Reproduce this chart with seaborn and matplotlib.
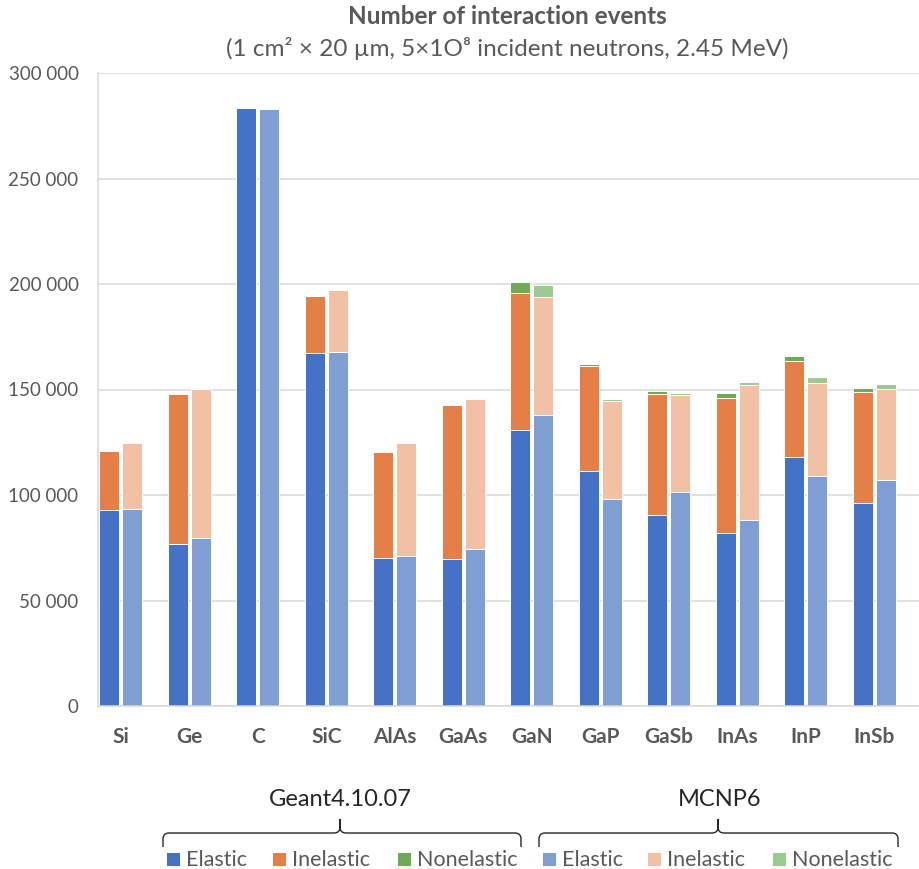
import numpy as np
import pandas as pd
import matplotlib
matplotlib.use("Agg")
import matplotlib.pyplot as plt
from matplotlib.path import Path
from matplotlib.patches import PathPatch, Rectangle
from matplotlib.transforms import Affine2D
from matplotlib.ticker import FuncFormatter
import seaborn as sns

# values
materials = ["Si", "Ge", "C", "SiC", "AlAs", "GaAs", "GaN", "GaP", "GaSb", "InAs", "InP", "InSb"]
models = ["Geant4.10.07", "MCNP6"]

g4_elastic = [92700, 77000, 283500, 167200, 70100, 69600, 131000, 111200, 90300, 81800, 117900, 96000]
g4_inelastic = [28200, 70900, 0, 26900, 50400, 73000, 64900, 49800, 57800, 64100, 45400, 52700]
g4_nonelastic = [500, 500, 0, 500, 400, 300, 5100, 1000, 1000, 2300, 2500, 2200]

mcnp_elastic = [93600, 79800, 282800, 168000, 71200, 74200, 138000, 97900, 101300, 88100, 109200, 107100]
mcnp_inelastic = [30900, 70600, 0, 29200, 53600, 71400, 55700, 46700, 46100, 64100, 43900, 43100]
mcnp_nonelastic = [400, 300, 0, 300, 400, 300, 5800, 1100, 1000, 1500, 2600, 2200]

colors = {
    "elastic": {"Geant4.10.07": "#4472C4", "MCNP6": "#7F9FD3"},
    "inelastic": {"Geant4.10.07": "#E47F47", "MCNP6": "#F2C1A5"},
    "nonelastic": {"Geant4.10.07": "#70AA58", "MCNP6": "#9CCB92"},
}
TEXT_GREY = "#595959"

sns.set_style("white")
plt.rcParams["font.family"] = ["Lato", "DejaVu Sans"]

W, H = 920, 869
fig = plt.figure(figsize=(W / 100, H / 100), dpi=100)
ax = fig.add_axes([98 / W, 1 - 706 / H, (920 - 98) / W, (706 - 73) / H])

# each material gets three slots: Geant4 bar, MCNP6 bar, empty slot
rows = []
for i, m in enumerate(materials):
    rows.append(dict(material=m, model=models[0], pos=i - 1 / 3,
                     elastic=g4_elastic[i], inelastic=g4_inelastic[i], nonelastic=g4_nonelastic[i]))
    rows.append(dict(material=m, model=models[1], pos=float(i),
                     elastic=mcnp_elastic[i], inelastic=mcnp_inelastic[i], nonelastic=mcnp_nonelastic[i]))
df = pd.DataFrame(rows)
df["el_inel"] = df["elastic"] + df["inelastic"]
df["total"] = df["el_inel"] + df["nonelastic"]

# stacked bars: draw the cumulative heights from tallest to shortest
for col, key in [("total", "nonelastic"), ("el_inel", "inelastic"), ("elastic", "elastic")]:
    sns.barplot(data=df, x="pos", y=col, hue="model", palette=colors[key], saturation=1,
                native_scale=True, dodge=False, width=0.875, errorbar=None,
                edgecolor="white", linewidth=0.7, legend=False, ax=ax)

ax.set_xlim(-0.5, 11.5)
ax.set_ylim(0, 300000)
ax.set_yticks(np.arange(0, 300001, 50000))
ax.yaxis.set_major_formatter(FuncFormatter(lambda v, p: f"{int(v):,}".replace(",", " ")))
ax.set_xticks(np.arange(len(materials)) - 1 / 6)
ax.set_xticklabels(materials, fontweight="bold", fontsize=15, color=TEXT_GREY)
ax.tick_params(axis="y", length=0, pad=14, labelsize=13.5, labelcolor=TEXT_GREY)
ax.tick_params(axis="x", length=0, pad=15)
ax.set_xlabel("")
ax.set_ylabel("")
ax.yaxis.grid(True, color="#D9D9D9", linewidth=1.1)
ax.set_axisbelow(True)
for s in ["top", "right"]:
    ax.spines[s].set_visible(False)
for s in ["left", "bottom"]:
    ax.spines[s].set_color("#D9D9D9")
    ax.spines[s].set_linewidth(1.1)

# pixel coordinates for annotations (origin top left)
px = Affine2D().scale(1 / W, -1 / H).translate(0, 1) + fig.transFigure

fig.text(507, 17, "Number of interaction events", transform=px, ha="center", va="center",
         fontsize=17.5, fontweight="bold", color=TEXT_GREY)
fig.text(507, 48, "(1 cm\u00b2 \u00d7 20 \u00b5m, 5\u00d71O\u2078 incident neutrons, 2.45 MeV)",
         transform=px, ha="center", va="center", fontsize=17.5, color=TEXT_GREY)


def brace(x0, x1, xm, yb=847, yh=833, yc=819, r=6):
    verts = [(x0, yb), (x0, yh + r), (x0, yh), (x0 + r, yh), (xm - r, yh), (xm, yh), (xm, yh - r),
             (xm, yc), (xm, yh - r), (xm, yh), (xm + r, yh), (x1 - r, yh), (x1, yh), (x1, yh + r), (x1, yb)]
    codes = [Path.MOVETO, Path.LINETO, Path.CURVE3, Path.CURVE3, Path.LINETO, Path.CURVE3, Path.CURVE3,
             Path.LINETO, Path.LINETO, Path.CURVE3, Path.CURVE3, Path.LINETO, Path.CURVE3, Path.CURVE3, Path.LINETO]
    fig.patches.append(PathPatch(Path(verts, codes), transform=px, fill=False,
                                 edgecolor="#262626", linewidth=1.0))


fig.text(340, 800, "Geant4.10.07", transform=px, ha="center", va="center", fontsize=17, color="#262626")
fig.text(720, 800, "MCNP6", transform=px, ha="center", va="center", fontsize=17, color="#262626")
brace(163, 521, 340)
brace(539, 898, 718)

legend_items = [
    (167, "Elastic", colors["elastic"]["Geant4.10.07"]),
    (273, "Inelastic", colors["inelastic"]["Geant4.10.07"]),
    (398, "Nonelastic", colors["nonelastic"]["Geant4.10.07"]),
    (543, "Elastic", colors["elastic"]["MCNP6"]),
    (648, "Inelastic", colors["inelastic"]["MCNP6"]),
    (773, "Nonelastic", colors["nonelastic"]["MCNP6"]),
]
for x, label, c in legend_items:
    fig.patches.append(Rectangle((x, 866), 13, -13, transform=px, facecolor=c, edgecolor="none"))
    fig.text(x + 19, 860, label, transform=px, ha="left", va="center", fontsize=15.5, color=TEXT_GREY)

fig.savefig("out.png", dpi=100)
